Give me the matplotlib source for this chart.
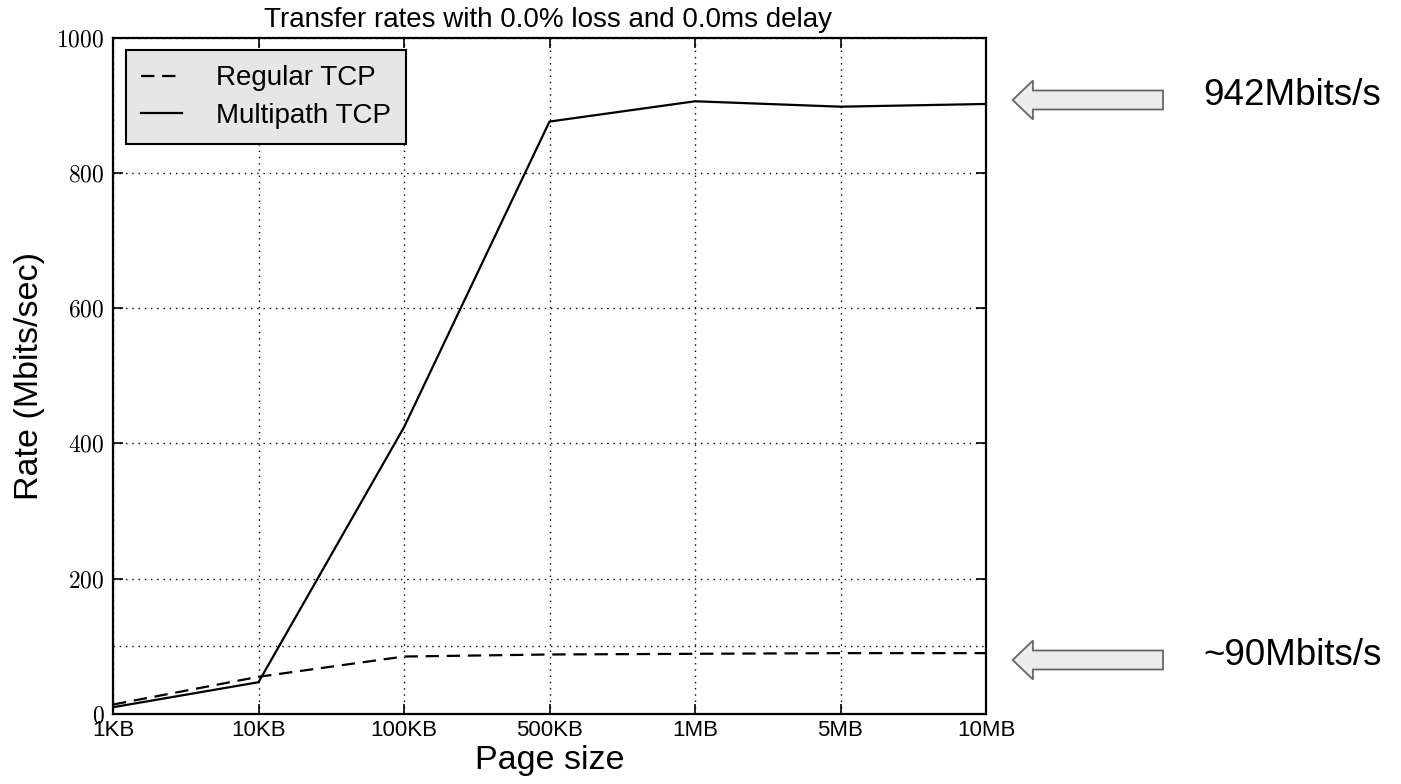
import matplotlib
matplotlib.use("Agg")
import matplotlib.pyplot as plt
from matplotlib.patches import Polygon
from matplotlib.transforms import IdentityTransform
from matplotlib.ticker import FuncFormatter

categories = ["1KB", "10KB", "100KB", "500KB", "1MB", "5MB", "10MB"]
regular_tcp = [14, 55, 85, 88, 89, 90, 90]
multipath_tcp = [10, 47, 424, 876, 906, 898, 902]
yticks = [0, 200, 400, 600, 800, 1000]
ref_line = 100
annotations = ["942Mbits/s", "~90Mbits/s"]

plt.rcParams['font.family'] = ['Liberation Sans', 'DejaVu Sans']
plt.rcParams['mathtext.fontset'] = 'cm'

W, H = 1401, 784
fig = plt.figure(figsize=(W / 100, H / 100), dpi=100)
ax = fig.add_axes([113 / W, 1 - 714 / H, (986 - 113) / W, (714 - 37.7) / H])

x = list(range(len(categories)))
ax.plot(x, regular_tcp, color='black', lw=1.6, linestyle=(0, (6, 3.5)), label='Regular TCP')
ax.plot(x, multipath_tcp, color='black', lw=1.6, label='Multipath TCP')
ax.axhline(ref_line, color='black', lw=1.0, linestyle=(0, (1, 3.5)), zorder=1)

ax.set_xlim(0, len(categories) - 1)
ax.set_ylim(0, 1000)
ax.set_xticks(x)
ax.set_xticklabels(categories, fontsize=16)
ax.set_yticks(yticks)
ax.yaxis.set_major_formatter(FuncFormatter(lambda v, p: r'$%d$' % v))
ax.tick_params(axis='y', labelsize=17)
ax.tick_params(direction='in', length=7, width=1.2, top=True, right=True)
ax.tick_params(axis='x', pad=4)
ax.tick_params(axis='y', pad=6)
ax.grid(True, color='black', lw=1.0, linestyle=(0, (1, 3.5)))
for s in ax.spines.values():
    s.set_linewidth(1.6)

ax.set_ylabel('Rate (Mbits/sec)', fontsize=24.5, labelpad=8)
ax.set_xlabel('Page size', fontsize=24.5, labelpad=3)
fig.text(548 / W, 1 - 27 / H, 'Transfer rates with 0.0% loss and 0.0ms delay',
         ha='center', va='baseline', fontsize=20)

leg = ax.legend(loc='upper left', fontsize=20, handlelength=1.5, handletextpad=1.2,
                borderpad=0.55, labelspacing=0.4, borderaxespad=0.45,
                fancybox=False, framealpha=1)
leg.get_frame().set_facecolor('#e6e6e6')
leg.get_frame().set_edgecolor('black')
leg.get_frame().set_linewidth(1.5)

def arrow(cy):
    tip, base, tail = 1012.7, 1033, 1163
    hh, sh = 19.5, 9.5
    pts = [(tip, cy), (base, cy + hh), (base, cy + sh), (tail, cy + sh),
           (tail, cy - sh), (base, cy - sh), (base, cy - hh)]
    pts = [(px, H - py) for px, py in pts]
    fig.patches.append(Polygon(pts, closed=True, facecolor='#ececec', edgecolor='#666666',
                               lw=1.3, transform=IdentityTransform(), figure=fig))

arrow(100)
arrow(660)
fig.text(1203 / W, 1 - 105 / H, annotations[0], fontsize=26.5, ha='left', va='baseline')
fig.text(1203 / W, 1 - 665 / H, annotations[1], fontsize=26.5, ha='left', va='baseline')

fig.savefig('out.png', dpi=100)
